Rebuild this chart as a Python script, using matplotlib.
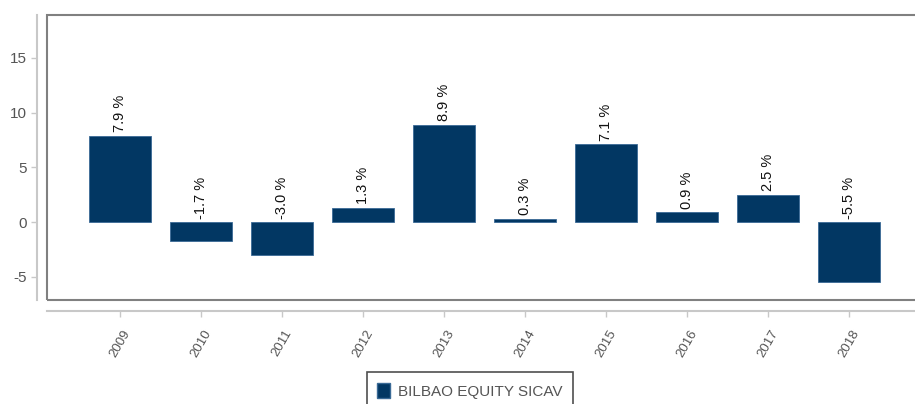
import matplotlib
matplotlib.use("Agg")
import matplotlib.pyplot as plt
from matplotlib.patches import Rectangle, Patch

years = ["2009", "2010", "2011", "2012", "2013", "2014", "2015", "2016", "2017", "2018"]
returns = [7.9, -1.7, -3.0, 1.3, 8.9, 0.3, 7.1, 0.9, 2.5, -5.5]
series_name = "BILBAO EQUITY SICAV"
yticks = [-5, 0, 5, 10, 15]

plt.rcParams['font.family'] = ['Liberation Sans', 'DejaVu Sans']

W, H = 915, 404
fig = plt.figure(figsize=(W / 100, H / 100), dpi=100)
left, right, top, bottom = 47, 922, 15, 300
ax = fig.add_axes([left / W, 1 - bottom / H, (right - left) / W, (bottom - top) / H])

bar_color = "#023763"
x = list(range(len(years)))
ax.bar(x, returns, width=0.77, color=bar_color, edgecolor="#3a6a96", linewidth=0.6, zorder=2)

for xi, v in zip(x, returns):
    ypos = v if v > 0 else 0
    ax.annotate(f"{v:.1f} %", (xi, ypos), xytext=(0, 2.5), textcoords="offset points",
                rotation=90, ha="center", va="bottom", fontsize=10.5, color="#111111")

ax.set_xlim(-0.9, 9.9)
ax.set_ylim(-7.1, 18.9)
ax.set_yticks(yticks)
ax.set_yticklabels([str(t) for t in yticks])
ax.set_xticks(x)
ax.set_xticklabels(years)

# frame box
ax.add_patch(Rectangle((0, 0), 1, 1, transform=ax.transAxes, fill=False,
                       edgecolor="#808080", linewidth=1.5, clip_on=False, zorder=5))
for s in ["top", "right"]:
    ax.spines[s].set_visible(False)
ax.spines["left"].set_position(("outward", 7.5))
ax.spines["bottom"].set_position(("outward", 8))
for s in ["left", "bottom"]:
    ax.spines[s].set_color("#c8c8c8")
    ax.spines[s].set_linewidth(1.5)
ax.tick_params(axis="y", colors="#c8c8c8", labelcolor="#555555", labelsize=11, length=4, width=1, pad=3)
ax.tick_params(axis="x", colors="#c8c8c8", labelcolor="#555555", labelsize=9.5, length=4, width=1, pad=8)
for lab in ax.get_xticklabels():
    lab.set_rotation(60)
    lab.set_ha("center")
    lab.set_va("top")

handle = Patch(facecolor=bar_color, edgecolor="#3a6a96")
leg = fig.legend([handle], [series_name], loc="upper center",
                 bbox_to_anchor=(470 / W, 1 - 372 / H), frameon=True, fancybox=False,
                 fontsize=11, handlelength=0.85, handleheight=1.2, borderpad=0.7,
                 borderaxespad=0, handletextpad=0.5, labelcolor="#555555")
leg.get_frame().set_edgecolor("#222222")
leg.get_frame().set_linewidth(1.2)

fig.savefig("out.png", dpi=100)
